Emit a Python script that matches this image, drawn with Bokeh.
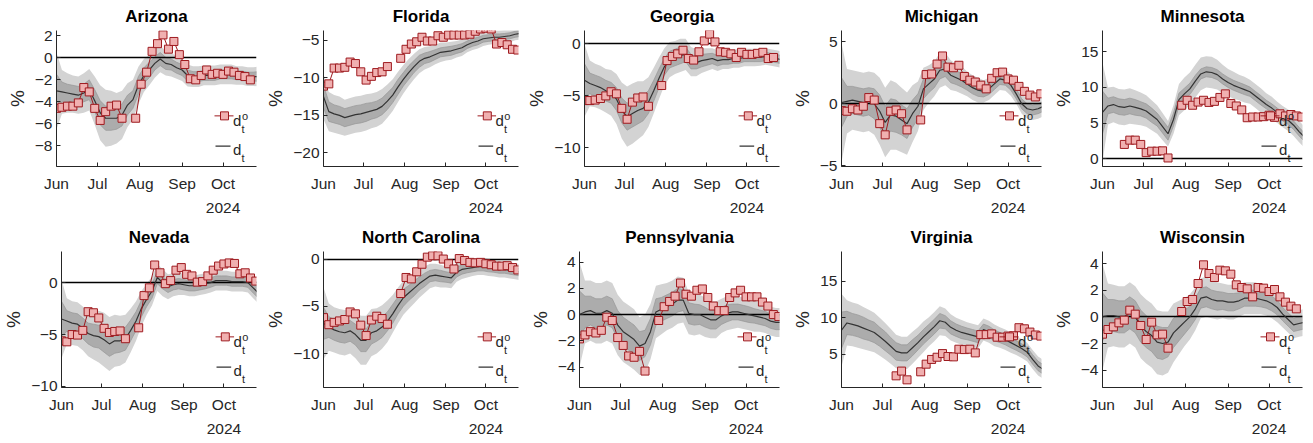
import numpy as np
from bokeh.plotting import figure
from bokeh.layouts import column, row
from bokeh.models import FixedTicker, LinearAxis, Label, Range1d
from bokeh.embed import file_html
from bokeh.resources import INLINE

nan = float("nan")

# ---------------- data ----------------
# days counted from 1 June 2024
LINE_DAYS = [0, 4, 8, 12, 16, 20, 24, 28, 32, 36, 40, 44, 48, 52, 56, 60, 64, 68, 72,
             76, 80, 84, 88, 92, 96, 100, 104, 108, 112, 116, 120, 124, 128, 132, 136,
             140, 144, 148]
POLL_DAYS = [0, 4, 8, 12, 16, 20, 24, 28, 32, 36, 40, 44, 48, 53, 58, 62, 66, 70, 74,
             78, 82, 86, 90, 94, 98, 102, 106, 110, 114, 118, 122, 126, 130, 134, 138,
             142, 146]
MONTH_DAYS = [0, 30, 61, 92, 122]
MONTH_LABELS = ["Jun", "Jul", "Aug", "Sep", "Oct"]
YEAR_DAY = 122
YEAR_LABEL = "2024"
X_START, X_END = 0, 146.5

STATES = ["Arizona", "Florida", "Georgia", "Michigan", "Minnesota",
          "Nevada", "North Carolina", "Pennsylvania", "Virginia", "Wisconsin"]

# observed poll margins d_t^o (%)
AZ_POLL = [-4.6, -4.5, -4.4, -4.4, -4.1, -2.7, -3.1, -4.6, -5.7, -4.9, -4.4, -4.3, -5.5, nan,
           -5.5, -2.4, -1.3, 0.6, 1.3, 2.1, 0.8, 1.5, 0.3, -0.6, -1.9, -2.0, -1.6, -1.1, -1.5,
           -1.4, -1.5, -1.2, -1.3, -1.6, -1.7, -2.0, nan]
FL_POLL = [-11.1, -10.8, -8.7, -8.7, -8.6, -7.9, -8.1, -9.2, -10.3, -9.8, -9.3, -9.2, -8.5, nan,
           -7.4, -6.2, -5.5, -5.2, -4.6, -5.1, -5.1, -4.4, -4.6, -4.3, -4.3, -4.3, -4.3, -4.2,
           -3.8, -3.5, -3.4, -3.5, -5.5, -5.3, -5.6, -6.2, -6.3]
GA_POLL = [-5.45, -5.45, -5.4, -5.25, -5.0, -4.6, -4.8, -6.2, -7.25, -5.6, -5.2, -5.1, -6.0, nan,
           -4.0, -1.6, -1.2, -0.95, -0.6, -1.4, -1.55, -0.75, 0.3, 0.95, 0.2, -0.75, -0.8, -0.95,
           -1.3, -0.8, -1.0, -1.0, -0.9, -0.8, -1.4, -1.3, nan]
MI_POLL = [-0.55, -0.6, -0.4, -0.5, -0.2, 0.5, 0.3, -1.6, -2.5, -0.6, -0.5, -0.8, -2.1, nan,
           -1.3, 2.35, 2.4, 3.2, 3.85, 2.95, 2.9, 3.1, 2.2, 1.9, 1.75, 1.5, 1.2, 2.05, 2.5, 2.55,
           2.0, 1.9, 1.4, 1.0, 0.7, 0.55, 0.8]
MN_POLL = [nan, nan, nan, nan, 2.0, 2.6, 2.6, 2.0, 0.85, 1.05, 1.05, 1.1, 0.1, nan,
           7.5, 8.2, 7.5, 7.95, 8.2, 7.9, 8.05, 8.6, 9.1, 7.75, 7.4, 6.85, 5.75, 5.85, 5.85, 5.9,
           6.1, 5.8, 6.3, 6.0, 6.2, 6.0, 5.85]
NV_POLL = [-5.6, -5.7, -5.0, -5.05, -4.6, -2.8, -2.9, -3.4, -4.4, -4.8, -4.7, -4.65, -5.4, nan,
           -4.35, -1.25, -0.5, 1.7, 0.95, -0.1, 0.2, 1.2, 1.45, 0.8, 0.65, 0.05, 0.1, 0.65, 1.2,
           1.6, 1.8, 1.9, 1.85, 0.85, 0.95, 0.45, 0.15]
NC_POLL = [-6.2, -6.95, -6.7, -6.55, -6.4, -5.6, -5.8, -7.0, -8.1, -6.45, -6.05, -6.3, -6.9, nan,
           -3.65, -1.95, -2.1, -1.35, -0.55, 0.2, 0.35, 0.35, 0.0, -0.5, -1.05, 0.05, -0.15,
           -0.35, -0.4, -0.35, -0.5, -0.6, -0.75, -0.75, -0.7, -0.9, -1.15]
PA_POLL = [-1.85, -1.55, -1.3, -1.4, -1.2, -0.2, -0.45, -1.75, -2.35, -3.15, -3.25, -2.8, -4.3, nan,
           -0.45, 0.6, 1.0, 1.4, 2.4, 1.55, 1.4, 1.85, 1.95, 1.3, 0.65, 0.3, 0.3, 1.3, 1.65, 1.85,
           1.35, 1.35, 1.35, 0.95, 0.65, 0.0, -0.15]
VA_POLL = [nan, nan, nan, nan, nan, nan, nan, nan, nan, nan, 2.05, 2.7, 1.5, nan,
           2.6, 3.65, 4.3, 4.6, 5.1, 4.7, 4.65, 5.7, 5.65, 5.7, 5.2, 7.7, 7.7, 7.8, 7.35, 7.35,
           7.5, 7.55, 8.65, 8.5, 8.05, 7.65, 7.5]
WI_POLL = [-1.3, -0.95, -0.75, -0.45, -0.25, 0.5, 0.2, -0.65, -1.7, -0.4, -1.35, -1.3, -2.35, nan,
           0.4, 1.15, 1.3, 2.5, 3.9, 3.25, 2.95, 3.5, 3.45, 3.2, 2.4, 2.2, 2.1, 1.5, 2.2, 2.15,
           1.9, 2.05, 1.5, 1.1, 0.8, 0.6, nan]

# estimated latent margin d_t (%)
AZ_LINE = [-3.0, -3.1, -3.2, -3.3, -3.4, -3.2, -2.9, -3.9, -5.0, -5.5, -5.5, -5.5, -5.2, -4.3,
           -3.8, -2.5, -1.6, -1.1, -0.5, -0.1, -0.5, -0.6, -0.9, -1.1, -1.6, -1.7, -1.7, -1.6,
           -1.6, -1.6, -1.5, -1.5, -1.5, -1.6, -1.6, -1.7, -1.7, -1.7]
FL_LINE = [-12.5, -14.5, -14.8, -15.0, -15.3, -15.1, -14.9, -14.8, -14.6, -14.4, -14.2, -13.8,
           -13.1, -12.3, -11.2, -10.2, -9.3, -8.5, -7.8, -7.4, -7.2, -6.9, -6.6, -6.5, -6.4,
           -6.2, -6.0, -5.6, -5.3, -5.1, -4.8, -4.7, -4.6, -4.6, -4.5, -4.4, -4.2, -4.1]
GA_LINE = [-3.5, -3.8, -4.0, -4.2, -4.5, -4.7, -5.3, -6.4, -7.0, -6.7, -6.4, -6.2, -5.6, -4.5,
           -3.3, -2.2, -1.5, -1.3, -1.1, -1.0, -1.7, -1.8, -1.6, -1.5, -1.4, -1.6, -1.5, -1.5,
           -1.4, -1.4, -1.3, -1.3, -1.3, -1.3, -1.2, -1.3, -1.4, -1.5]
MI_LINE = [0.1, 0.2, 0.3, 0.2, 0.1, 0.2, 0.0, -0.6, -1.5, -0.9, -1.0, -1.3, -1.6, -0.8, -0.2,
           1.2, 1.6, 2.0, 2.7, 2.8, 2.3, 2.1, 1.9, 1.6, 1.3, 1.1, 1.0, 1.2, 1.6, 2.0, 1.9, 1.5,
           0.8, 0.0, -0.4, -0.5, -0.4, -0.2]
MN_LINE = [6.5, 7.4, 7.6, 7.3, 7.2, 7.4, 7.2, 7.0, 6.7, 6.1, 5.5, 4.5, 3.5, 5.5, 8.3, 9.1, 9.8,
           10.9, 11.9, 12.2, 12.1, 11.8, 11.2, 10.7, 10.3, 10.0, 9.7, 9.4, 8.8, 8.2, 7.6, 7.1,
           6.5, 5.9, 5.4, 4.7, 3.8, 3.0]
NV_LINE = [-3.5, -3.7, -3.9, -4.0, -4.4, -4.9, -5.1, -5.2, -5.5, -5.9, -5.6, -5.6, -5.4, -4.6,
           -3.7, -2.5, -1.6, -0.8, 0.5, 0.0, -0.4, -0.2, -0.1, -0.2, -0.3, -0.3, -0.2, -0.1,
           0.0, 0.2, 0.2, 0.2, 0.1, 0.1, 0.1, 0.0, -0.5, -1.0]
NC_LINE = [-6.8, -7.2, -7.5, -7.7, -7.8, -7.6, -8.0, -8.6, -8.6, -7.8, -7.6, -7.2, -6.6, -5.8,
           -4.9, -4.1, -3.6, -3.1, -2.6, -2.2, -1.8, -1.7, -1.8, -1.9, -2.0, -1.4, -1.1, -1.0,
           -0.9, -0.8, -0.8, -0.9, -1.0, -1.1, -1.1, -1.2, -1.3, -1.4]
PA_LINE = [0.0, 0.2, 0.3, 0.1, 0.1, 0.3, 0.1, -0.8, -1.3, -1.6, -1.9, -2.4, -2.2, -1.3, 0.2,
           0.4, 0.6, 0.8, 1.1, 1.1, 0.1, 0.0, 0.0, -0.2, -0.4, -0.4, -0.1, 0.1, 0.2, 0.2, 0.1,
           0.0, -0.1, -0.2, -0.3, -0.5, -0.6, -0.6]
VA_LINE = [8.3, 9.3, 9.1, 8.9, 8.6, 8.3, 8.0, 7.4, 6.8, 6.1, 5.4, 5.2, 5.2, 5.9, 6.6, 7.4, 8.1,
           8.8, 9.6, 9.4, 8.7, 8.3, 8.0, 7.8, 7.6, 7.4, 8.4, 8.1, 7.6, 7.3, 7.0, 6.6, 6.2, 5.8,
           5.3, 4.3, 3.4, 2.9]
WI_LINE = [0.0, 0.1, 0.1, 0.0, 0.0, 0.3, 0.0, -0.7, -1.1, -1.4, -1.9, -2.0, -1.9, -1.2, -0.8,
           -0.4, 0.0, 0.6, 1.4, 1.5, 1.3, 1.2, 1.2, 1.1, 1.1, 1.2, 1.4, 1.4, 1.4, 1.3, 1.2, 1.0,
           0.7, 0.2, -0.2, -0.6, -0.5, -0.4]

# half-widths of the inner / outer credible bands (%)
AZ_W_IN = [1.5, 0.9, 0.8, 0.8, 0.8, 0.8, 0.9, 1.0, 1.1, 1.1, 1.1, 1.0, 1.0, 0.9, 0.8, 0.8, 0.7,
           0.7, 0.6, 0.6, 0.55, 0.5, 0.5, 0.5, 0.5, 0.45, 0.45, 0.45, 0.45, 0.45, 0.4, 0.4, 0.4,
           0.4, 0.4, 0.4, 0.4, 0.45]
AZ_W_OUT = [3.5, 2.0, 1.8, 1.7, 1.7, 1.8, 1.9, 2.2, 2.5, 2.6, 2.5, 2.3, 2.2, 2.0, 1.8, 1.7, 1.5,
            1.4, 1.3, 1.2, 1.1, 1.1, 1.0, 1.0, 1.0, 0.95, 0.95, 0.9, 0.9, 0.9, 0.9, 0.9, 0.9,
            0.85, 0.85, 0.85, 0.85, 0.9]
FL_W_IN = [1.5, 1.3, 1.2, 1.2, 1.2, 1.2, 1.2, 1.2, 1.2, 1.1, 1.1, 1.1, 1.1, 1.0, 1.0, 0.9, 0.9,
           0.8, 0.8, 0.7, 0.7, 0.65, 0.6, 0.6, 0.6, 0.55, 0.55, 0.5, 0.5, 0.5, 0.45, 0.45, 0.45,
           0.45, 0.4, 0.4, 0.4, 0.4]
FL_W_OUT = [3.0, 2.6, 2.5, 2.5, 2.4, 2.4, 2.4, 2.4, 2.4, 2.3, 2.3, 2.3, 2.2, 2.1, 2.0, 1.9, 1.8,
            1.7, 1.6, 1.5, 1.4, 1.3, 1.3, 1.2, 1.2, 1.1, 1.1, 1.0, 1.0, 1.0, 0.95, 0.9, 0.9,
            0.9, 0.85, 0.85, 0.8, 0.8]
GA_W_IN = [1.6, 1.0, 1.0, 1.0, 1.0, 1.0, 1.1, 1.2, 1.3, 1.3, 1.3, 1.2, 1.1, 1.0, 0.9, 0.8, 0.8,
           0.8, 0.8, 0.7, 0.7, 0.6, 0.6, 0.55, 0.5, 0.5, 0.45, 0.45, 0.45, 0.45, 0.4, 0.4, 0.4,
           0.4, 0.4, 0.4, 0.4, 0.4]
GA_W_OUT = [3.5, 2.2, 2.1, 2.1, 2.1, 2.2, 2.4, 2.7, 2.9, 2.9, 2.8, 2.6, 2.4, 2.2, 2.0, 1.8, 1.7,
            1.6, 1.6, 1.5, 1.4, 1.3, 1.2, 1.1, 1.0, 1.0, 0.9, 0.9, 0.9, 0.9, 0.85, 0.85, 0.85,
            0.8, 0.8, 0.8, 0.8, 0.8]
MI_W_IN = [2.0, 1.2, 1.1, 1.1, 1.1, 1.1, 1.2, 1.3, 1.3, 1.3, 1.3, 1.2, 1.2, 1.1, 1.0, 0.8, 0.7,
           0.7, 0.7, 0.6, 0.6, 0.55, 0.55, 0.5, 0.5, 0.5, 0.45, 0.45, 0.45, 0.45, 0.4, 0.4, 0.4,
           0.4, 0.4, 0.4, 0.4, 0.4]
MI_W_OUT = [4.8, 2.6, 2.4, 2.4, 2.4, 2.4, 2.5, 2.7, 2.8, 2.8, 2.7, 2.6, 2.5, 2.3, 2.0, 1.7, 1.5,
            1.4, 1.4, 1.3, 1.2, 1.1, 1.1, 1.0, 1.0, 1.0, 0.9, 0.9, 0.9, 0.9, 0.85, 0.85, 0.8,
            0.8, 0.8, 0.8, 0.8, 0.8]
MN_W_IN = [3.0, 1.1, 1.1, 1.1, 1.1, 1.1, 1.1, 1.0, 1.0, 1.0, 0.9, 0.9, 0.9, 0.9, 0.9, 0.8, 0.8,
           0.8, 0.7, 0.7, 0.7, 0.7, 0.7, 0.7, 0.7, 0.7, 0.7, 0.65, 0.65, 0.65, 0.6, 0.6, 0.6,
           0.6, 0.6, 0.6, 0.6, 0.6]
MN_W_OUT = [7.0, 2.6, 2.5, 2.5, 2.5, 2.5, 2.4, 2.3, 2.2, 2.1, 2.0, 1.9, 1.8, 2.0, 2.2, 2.3, 2.3,
            2.3, 2.3, 2.2, 2.2, 2.1, 2.0, 1.9, 1.9, 1.8, 1.8, 1.7, 1.7, 1.7, 1.6, 1.6, 1.5, 1.5,
            1.5, 1.5, 1.5, 1.5]
NV_W_IN = [1.7, 1.0, 1.0, 1.0, 1.0, 1.0, 1.1, 1.1, 1.2, 1.2, 1.2, 1.1, 1.1, 1.0, 0.9, 0.8, 0.7,
           0.7, 0.6, 0.6, 0.55, 0.5, 0.5, 0.5, 0.5, 0.5, 0.5, 0.5, 0.45, 0.45, 0.45, 0.45, 0.45,
           0.45, 0.45, 0.45, 0.5, 0.5]
NV_W_OUT = [3.8, 2.2, 2.1, 2.1, 2.1, 2.2, 2.3, 2.5, 2.6, 2.6, 2.5, 2.4, 2.3, 2.1, 1.9, 1.7, 1.5,
            1.4, 1.3, 1.3, 1.2, 1.1, 1.1, 1.0, 1.0, 1.0, 1.0, 1.0, 0.95, 0.95, 0.95, 0.95, 0.95,
            0.95, 0.95, 0.95, 1.0, 1.0]
NC_W_IN = [1.7, 1.1, 1.1, 1.1, 1.1, 1.1, 1.1, 1.2, 1.2, 1.2, 1.1, 1.1, 1.0, 1.0, 0.9, 0.9, 0.8,
           0.8, 0.7, 0.7, 0.6, 0.6, 0.6, 0.55, 0.55, 0.5, 0.5, 0.45, 0.45, 0.45, 0.45, 0.45,
           0.4, 0.4, 0.4, 0.4, 0.4, 0.4]
NC_W_OUT = [3.8, 2.5, 2.4, 2.4, 2.4, 2.4, 2.5, 2.6, 2.6, 2.5, 2.4, 2.3, 2.2, 2.0, 1.9, 1.8, 1.7,
            1.6, 1.5, 1.4, 1.3, 1.2, 1.2, 1.1, 1.1, 1.0, 1.0, 0.95, 0.9, 0.9, 0.9, 0.9, 0.85,
            0.85, 0.85, 0.85, 0.85, 0.85]
PA_W_IN = [1.8, 1.2, 1.1, 1.1, 1.1, 1.1, 1.1, 1.1, 1.1, 1.1, 1.1, 1.1, 1.0, 1.0, 1.0, 0.9, 0.9,
           0.9, 0.9, 0.8, 0.8, 0.8, 0.75, 0.75, 0.7, 0.7, 0.65, 0.65, 0.6, 0.6, 0.6, 0.6, 0.55,
           0.55, 0.55, 0.55, 0.55, 0.55]
PA_W_OUT = [4.0, 2.4, 2.3, 2.3, 2.3, 2.3, 2.3, 2.3, 2.3, 2.3, 2.3, 2.2, 2.2, 2.1, 2.0, 1.9, 1.8,
            1.8, 1.8, 1.7, 1.6, 1.6, 1.5, 1.5, 1.4, 1.4, 1.3, 1.3, 1.3, 1.2, 1.2, 1.2, 1.2, 1.1,
            1.1, 1.1, 1.1, 1.1]
VA_W_IN = [2.5, 1.6, 1.5, 1.5, 1.5, 1.4, 1.4, 1.3, 1.3, 1.2, 1.2, 1.1, 1.1, 1.1, 1.0, 1.0, 1.0,
           1.0, 1.0, 0.9, 0.9, 0.85, 0.85, 0.8, 0.8, 0.8, 0.75, 0.75, 0.75, 0.7, 0.7, 0.7, 0.65,
           0.65, 0.65, 0.65, 0.65, 0.65]
VA_W_OUT = [5.0, 3.1, 3.0, 3.0, 2.9, 2.8, 2.7, 2.6, 2.5, 2.4, 2.3, 2.2, 2.2, 2.2, 2.1, 2.1, 2.0,
            2.0, 2.0, 1.9, 1.8, 1.7, 1.7, 1.6, 1.6, 1.6, 1.5, 1.5, 1.5, 1.4, 1.4, 1.4, 1.3, 1.3,
            1.3, 1.3, 1.3, 1.3]
WI_W_IN = [1.8, 1.2, 1.2, 1.2, 1.2, 1.2, 1.2, 1.2, 1.2, 1.2, 1.2, 1.2, 1.1, 1.1, 1.0, 0.9, 0.8,
           0.8, 0.75, 0.75, 0.7, 0.7, 0.65, 0.65, 0.65, 0.6, 0.6, 0.6, 0.6, 0.55, 0.55, 0.55,
           0.55, 0.5, 0.5, 0.5, 0.5, 0.5]
WI_W_OUT = [4.0, 2.4, 2.3, 2.3, 2.3, 2.3, 2.3, 2.4, 2.4, 2.4, 2.4, 2.4, 2.3, 2.2, 2.0, 1.8, 1.7,
            1.6, 1.5, 1.5, 1.4, 1.4, 1.3, 1.3, 1.3, 1.2, 1.2, 1.2, 1.2, 1.1, 1.1, 1.1, 1.1, 1.0,
            1.0, 1.0, 1.0, 1.0]

POLLS = [AZ_POLL, FL_POLL, GA_POLL, MI_POLL, MN_POLL, NV_POLL, NC_POLL, PA_POLL, VA_POLL, WI_POLL]
LINES = [AZ_LINE, FL_LINE, GA_LINE, MI_LINE, MN_LINE, NV_LINE, NC_LINE, PA_LINE, VA_LINE, WI_LINE]
W_INS = [AZ_W_IN, FL_W_IN, GA_W_IN, MI_W_IN, MN_W_IN, NV_W_IN, NC_W_IN, PA_W_IN, VA_W_IN, WI_W_IN]
W_OUTS = [AZ_W_OUT, FL_W_OUT, GA_W_OUT, MI_W_OUT, MN_W_OUT, NV_W_OUT, NC_W_OUT, PA_W_OUT,
          VA_W_OUT, WI_W_OUT]

# axis limits and ticks per panel
Y_RANGES = [(-9.9, 2.5), (-21.8, -3.7), (-11.8, 1.3), (-5.05, 5.9), (-1.1, 18.0),
            (-10.1, 3.0), (-13.6, 0.8), (-5.55, 4.8), (0.45, 19.1), (-5.3, 4.9)]
Y_TICKS = [[-8, -6, -4, -2, 0, 2], [-20, -15, -10, -5], [-10, -5, 0], [-5, 0, 5],
           [0, 5, 10, 15], [-10, -5, 0], [-10, -5, 0], [-4, -2, 0, 2, 4], [5, 10, 15],
           [-4, -2, 0, 2, 4]]

for arr in POLLS:
    assert len(arr) == len(POLL_DAYS)
for arrs in (LINES, W_INS, W_OUTS):
    for arr in arrs:
        assert len(arr) == len(LINE_DAYS)

# ---------------- style ----------------
FONT = "Liberation Sans"
TXT = "#262626"
RED = "#9E1A1F"
PINK = "#F0B0B0"
OUTER = "#D3D3D3"
INNER = "#ACACAC"
INNER_EDGE = "#969696"
DLINE = "#333333"
COL_W = [262, 261, 262, 261, 265]
ROW_H = [221, 221]
LEFT, TOP = 56, 29
FW, FH = 200, 137
TICK_SIZE = 15.5


def fmt(t):
    return str(t).replace("-", "\u2212")


def make_panel(i):
    r, c = divmod(i, 5)
    W, H = COL_W[c], ROW_H[r]
    y0, y1 = Y_RANGES[i]
    p = figure(width=W, height=H, x_range=Range1d(X_START, X_END), y_range=Range1d(y0, y1),
               output_backend="svg", toolbar_location=None,
               min_border_left=LEFT, min_border_right=W - LEFT - FW,
               min_border_top=TOP, min_border_bottom=H - TOP - FH)
    p.outline_line_color = None
    p.xgrid.visible = False
    p.ygrid.visible = False
    p.background_fill_color = "white"
    p.border_fill_color = "white"

    p.title.text = STATES[i]
    p.title.align = "center"
    p.title.text_font = FONT
    p.title.text_font_size = "17px"
    p.title.text_font_style = "bold"
    p.title.text_color = "#000000"
    p.title.standoff = 9

    for ax in (p.xaxis[0], p.yaxis[0]):
        ax.axis_line_color = TXT
        ax.axis_line_width = 1
        ax.major_tick_line_color = TXT
        ax.major_tick_in = 4
        ax.major_tick_out = 0
        ax.minor_tick_line_color = None
        ax.major_label_text_font = FONT
        ax.major_label_text_font_size = f"{TICK_SIZE}px"
        ax.major_label_text_color = TXT
    xa = p.xaxis[0]
    xa.ticker = FixedTicker(ticks=MONTH_DAYS)
    xa.major_label_overrides = dict(zip(MONTH_DAYS, MONTH_LABELS))
    xa.major_label_standoff = 8
    ya = p.yaxis[0]
    ya.ticker = FixedTicker(ticks=Y_TICKS[i])
    ya.major_label_overrides = {t: fmt(t) for t in Y_TICKS[i]}
    ya.major_label_standoff = 4
    ya.axis_label = "%"
    ya.axis_label_standoff = 4
    ya.axis_label_text_font = FONT
    ya.axis_label_text_font_size = "19px"
    ya.axis_label_text_font_style = "normal"
    ya.axis_label_text_color = TXT

    ax2 = LinearAxis(ticker=FixedTicker(ticks=[YEAR_DAY]),
                     major_label_overrides={YEAR_DAY: YEAR_LABEL},
                     axis_line_color=None, major_tick_line_color=None,
                     minor_tick_line_color=None, major_tick_in=0, major_tick_out=0,
                     major_label_standoff=8, major_label_text_font=FONT,
                     major_label_text_font_size=f"{TICK_SIZE}px",
                     major_label_text_color=TXT)
    p.add_layout(ax2, "below")

    L = np.array(LINES[i])
    wi = np.array(W_INS[i])
    wo = np.array(W_OUTS[i])
    p.varea(x=LINE_DAYS, y1=L - wo, y2=L + wo, fill_color=OUTER)
    p.varea(x=LINE_DAYS, y1=L - wi, y2=L + wi, fill_color=INNER)
    p.line(LINE_DAYS, L - wi, line_color=INNER_EDGE, line_width=0.7)
    p.line(LINE_DAYS, L + wi, line_color=INNER_EDGE, line_width=0.7)
    if y0 < 0 < y1:
        p.hspan(y=[0], line_color="#000000", line_width=1.3)
    p.line(LINE_DAYS, L, line_color=DLINE, line_width=1.2)
    p.line(POLL_DAYS, POLLS[i], line_color=RED, line_width=1)
    p.scatter(POLL_DAYS, POLLS[i], marker="square", size=8, fill_color=PINK,
              line_color=RED, line_width=1)

    # frame-relative pixel -> data helpers (legend placement)
    def fx(px):
        return X_START + px / FW * (X_END - X_START)

    def fy(py):
        return y0 + py / FH * (y1 - y0)

    # legend
    p.line([fx(158), fx(177)], [fy(51), fy(51)], line_color=RED, line_width=1)
    p.scatter([fx(168)], [fy(51)], marker="square", size=8, fill_color=PINK,
              line_color=RED, line_width=1)
    p.line([fx(159), fx(174)], [fy(20.5), fy(20.5)], line_color=DLINE, line_width=1.2)
    for txt, px, py, sz in [("d", 176.5, 46, 15), ("o", 185.5, 51, 11), ("t", 185, 37.5, 11),
                            ("d", 176.5, 17, 15), ("t", 185, 8.5, 11)]:
        p.add_layout(Label(x=fx(px), y=fy(py), text=txt, text_align="left",
                           text_baseline="alphabetic", text_font=FONT,
                           text_font_size=f"{sz}px", text_color=TXT))
    return p


figs = [make_panel(i) for i in range(10)]
layout = column(row(*figs[:5]), row(*figs[5:]))
open("out.html", "w").write(file_html(layout, INLINE))
